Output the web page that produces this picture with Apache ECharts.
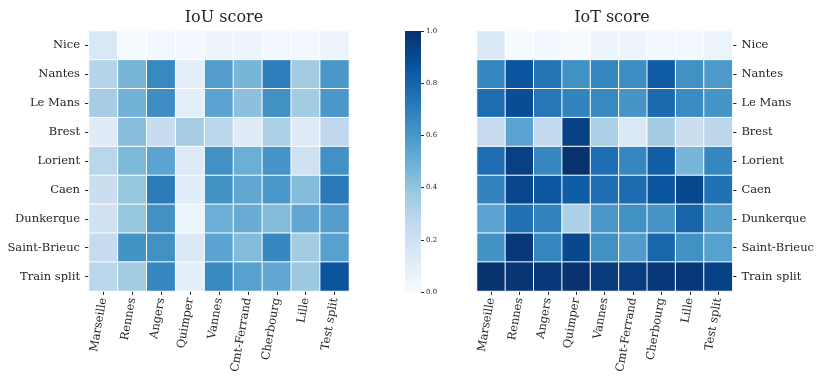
<!DOCTYPE html>
<html>
<head>
<meta charset="utf-8">
<script src="https://cdn.jsdelivr.net/npm/echarts@6/dist/echarts.min.js"></script>
<style>
  html, body { margin: 0; padding: 0; background: #fff; }
  #chart { width: 817px; height: 379px; }
</style>
</head>
<body>
<div id="chart"></div>
<script>
// Evaluation datasets (rows) and training cities (columns)
const rowLabels = ['Nice', 'Nantes', 'Le Mans', 'Brest', 'Lorient', 'Caen', 'Dunkerque', 'Saint-Brieuc', 'Train split'];
const colLabels = ['Marseille', 'Rennes', 'Angers', 'Quimper', 'Vannes', 'Cmt-Ferrand', 'Cherbourg', 'Lille', 'Test split'];

// IoU score per row (one entry per column)
const iouNice        = [0.15, 0.01, 0.02, 0.02, 0.05, 0.05, 0.02, 0.02, 0.06];
const iouNantes      = [0.30, 0.47, 0.66, 0.10, 0.57, 0.47, 0.70, 0.36, 0.60];
const iouLeMans      = [0.35, 0.48, 0.64, 0.09, 0.55, 0.42, 0.63, 0.36, 0.60];
const iouBrest       = [0.12, 0.43, 0.24, 0.35, 0.29, 0.12, 0.33, 0.12, 0.27];
const iouLorient     = [0.29, 0.45, 0.55, 0.13, 0.63, 0.50, 0.61, 0.20, 0.63];
const iouCaen        = [0.23, 0.39, 0.71, 0.11, 0.62, 0.53, 0.60, 0.44, 0.72];
const iouDunkerque   = [0.20, 0.39, 0.63, 0.05, 0.50, 0.51, 0.44, 0.53, 0.57];
const iouSaintBrieuc = [0.25, 0.62, 0.63, 0.14, 0.55, 0.44, 0.67, 0.36, 0.56];
const iouTrainSplit  = [0.28, 0.36, 0.67, 0.09, 0.66, 0.56, 0.53, 0.38, 0.86];

// IoT score per row (one entry per column)
const iotNice        = [0.14, 0.01, 0.02, 0.01, 0.05, 0.05, 0.02, 0.02, 0.06];
const iotNantes      = [0.67, 0.86, 0.74, 0.63, 0.67, 0.64, 0.83, 0.63, 0.59];
const iotLeMans      = [0.76, 0.89, 0.73, 0.68, 0.66, 0.61, 0.78, 0.65, 0.61];
const iotBrest       = [0.25, 0.55, 0.26, 0.93, 0.33, 0.14, 0.36, 0.23, 0.28];
const iotLorient     = [0.76, 0.94, 0.67, 0.99, 0.76, 0.67, 0.82, 0.47, 0.67];
const iotCaen        = [0.68, 0.92, 0.85, 0.83, 0.76, 0.77, 0.86, 0.91, 0.75];
const iotDunkerque   = [0.55, 0.75, 0.68, 0.33, 0.60, 0.63, 0.61, 0.80, 0.57];
const iotSaintBrieuc = [0.62, 0.97, 0.67, 0.91, 0.63, 0.58, 0.79, 0.63, 0.56];
const iotTrainSplit  = [0.99, 0.98, 0.97, 0.99, 0.96, 0.95, 0.97, 0.97, 0.93];

// Colorbar ticks
const colorbarTicks = [0, 0.2, 0.4, 0.6, 0.8, 1.0];

const iouRows = [iouNice, iouNantes, iouLeMans, iouBrest, iouLorient, iouCaen, iouDunkerque, iouSaintBrieuc, iouTrainSplit];
const iotRows = [iotNice, iotNantes, iotLeMans, iotBrest, iotLorient, iotCaen, iotDunkerque, iotSaintBrieuc, iotTrainSplit];

function toCells(rows) {
  const out = [];
  rows.forEach((row, r) => row.forEach((v, c) => out.push([c, r, v])));
  return out;
}

// Matplotlib "Blues" colormap
const blues = ['#f7fbff', '#deebf7', '#c6dbef', '#9ecae1', '#6baed6', '#4292c6', '#2171b5', '#08519c', '#08306b'];

const FONT = 'DejaVu Serif';
const TXT = '#262626';
const LABEL_SIZE = 11.5;

const chart = echarts.init(document.getElementById('chart'), null, { renderer: 'canvas' });

const catX = (gridIndex) => ({
  type: 'category', gridIndex, data: colLabels,
  axisLine: { show: false },
  axisTick: { show: true, alignWithLabel: true, length: 4, lineStyle: { color: TXT } },
  axisLabel: { rotate: 80, margin: 7, fontFamily: FONT, fontSize: LABEL_SIZE, color: TXT, interval: 0 },
  splitLine: { show: false }
});
const catY = (gridIndex, position) => ({
  type: 'category', gridIndex, data: rowLabels, inverse: true, position,
  axisLine: { show: false },
  axisTick: { show: true, alignWithLabel: true, length: 4, lineStyle: { color: TXT } },
  axisLabel: { margin: 9, fontFamily: FONT, fontSize: LABEL_SIZE, color: TXT, interval: 0 },
  splitLine: { show: false }
});

const gradient = new echarts.graphic.LinearGradient(0, 1, 0, 0,
  blues.map((c, i) => ({ offset: i / (blues.length - 1), color: c })));

chart.setOption({
  animation: false,
  backgroundColor: '#ffffff',
  title: [
    { text: 'IoU score', left: 219, top: 5, textAlign: 'center',
      textStyle: { fontFamily: FONT, fontSize: 16, fontWeight: 'normal', color: TXT } },
    { text: 'IoT score', left: 607, top: 5, textAlign: 'center',
      textStyle: { fontFamily: FONT, fontSize: 16, fontWeight: 'normal', color: TXT } }
  ],
  grid: [
    { left: 89, top: 31, width: 260, height: 260 },
    { left: 477, top: 31, width: 260, height: 260 },
    { left: 405, top: 31, width: 16, height: 261 }
  ],
  xAxis: [
    catX(0),
    catX(1),
    { type: 'category', gridIndex: 2, data: ['cb'], show: false, boundaryGap: true }
  ],
  yAxis: [
    catY(0, 'left'),
    catY(1, 'right'),
    { type: 'value', gridIndex: 2, min: colorbarTicks[0], max: colorbarTicks[colorbarTicks.length - 1],
      interval: 0.2, position: 'right',
      axisLine: { show: false },
      axisTick: { show: true, length: 3, lineStyle: { color: TXT } },
      axisLabel: { margin: 5, fontFamily: FONT, fontSize: 7, color: TXT,
        formatter: v => v.toFixed(1) },
      splitLine: { show: false } }
  ],
  visualMap: [
    { show: false, type: 'continuous', min: 0, max: 1, seriesIndex: [0, 1], inRange: { color: blues } }
  ],
  series: [
    { type: 'heatmap', xAxisIndex: 0, yAxisIndex: 0, data: toCells(iouRows),
      itemStyle: { borderColor: '#ffffff', borderWidth: 1 }, emphasis: { disabled: true } },
    { type: 'heatmap', xAxisIndex: 1, yAxisIndex: 1, data: toCells(iotRows),
      itemStyle: { borderColor: '#ffffff', borderWidth: 1 }, emphasis: { disabled: true } },
    { type: 'bar', xAxisIndex: 2, yAxisIndex: 2, data: [colorbarTicks[colorbarTicks.length - 1]],
      barWidth: '100%', itemStyle: { color: gradient }, silent: true }
  ]
});
</script>
</body>
</html>
